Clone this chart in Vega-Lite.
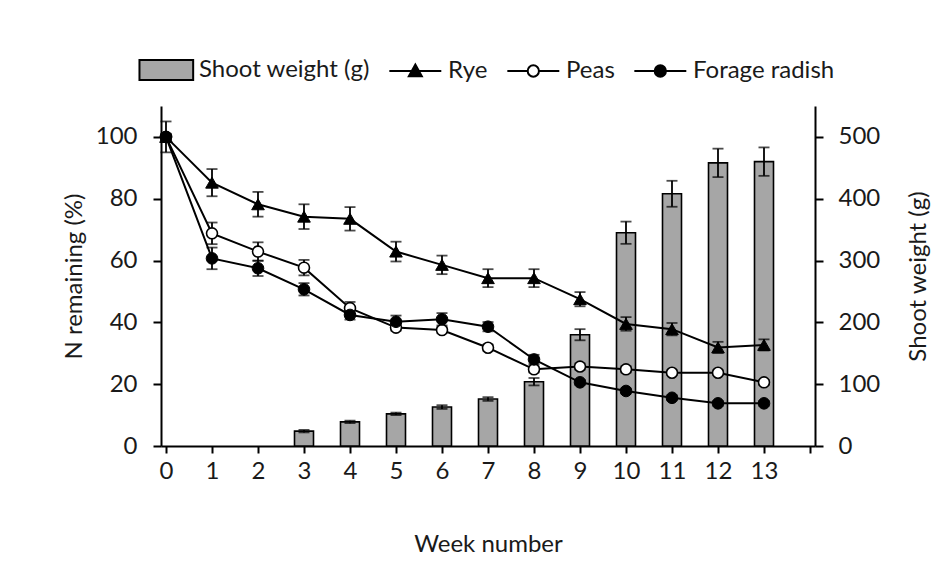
{
  "$schema": "https://vega.github.io/schema/vega-lite/v6.json",
  "width": 654,
  "height": 340,
  "autosize": {"type": "none"},
  "padding": {"left": 161, "top": 106, "right": 136, "bottom": 136},
  "background": "white",
  "datasets": {
    "shoot": [
      {"week": 3, "weight": 24, "err": 2},
      {"week": 4, "weight": 39, "err": 2},
      {"week": 5, "weight": 52, "err": 2},
      {"week": 6, "weight": 63, "err": 3},
      {"week": 7, "weight": 76, "err": 3},
      {"week": 8, "weight": 104, "err": 6},
      {"week": 9, "weight": 180, "err": 9},
      {"week": 10, "weight": 345, "err": 18},
      {"week": 11, "weight": 408, "err": 21},
      {"week": 12, "weight": 458, "err": 23},
      {"week": 13, "weight": 460, "err": 23}
    ],
    "lines": [
      {"week": 0, "series": "Rye", "n": 100, "err": 5},
      {"week": 1, "series": "Rye", "n": 85.2, "err": 4.4},
      {"week": 2, "series": "Rye", "n": 78.2, "err": 4},
      {"week": 3, "series": "Rye", "n": 74.2, "err": 4},
      {"week": 4, "series": "Rye", "n": 73.5, "err": 3.8},
      {"week": 5, "series": "Rye", "n": 62.9, "err": 3.2},
      {"week": 6, "series": "Rye", "n": 58.6, "err": 3},
      {"week": 7, "series": "Rye", "n": 54.3, "err": 2.9},
      {"week": 8, "series": "Rye", "n": 54.3, "err": 2.9},
      {"week": 9, "series": "Rye", "n": 47.5, "err": 2.3},
      {"week": 10, "series": "Rye", "n": 39.5, "err": 2.2},
      {"week": 11, "series": "Rye", "n": 37.8, "err": 2},
      {"week": 12, "series": "Rye", "n": 31.9, "err": 1.8},
      {"week": 13, "series": "Rye", "n": 32.7, "err": 1.8},
      {"week": 0, "series": "Peas", "n": 100, "err": 1},
      {"week": 1, "series": "Peas", "n": 68.8, "err": 3.5},
      {"week": 2, "series": "Peas", "n": 62.9, "err": 3},
      {"week": 3, "series": "Peas", "n": 57.7, "err": 2.5},
      {"week": 4, "series": "Peas", "n": 44.6, "err": 2},
      {"week": 5, "series": "Peas", "n": 38.3, "err": 1},
      {"week": 6, "series": "Peas", "n": 37.5, "err": 1},
      {"week": 7, "series": "Peas", "n": 31.8, "err": 1},
      {"week": 8, "series": "Peas", "n": 24.8, "err": 1},
      {"week": 9, "series": "Peas", "n": 25.7, "err": 1},
      {"week": 10, "series": "Peas", "n": 24.8, "err": 1},
      {"week": 11, "series": "Peas", "n": 23.7, "err": 0.8},
      {"week": 12, "series": "Peas", "n": 23.7, "err": 0.8},
      {"week": 13, "series": "Peas", "n": 20.6, "err": 0.8},
      {"week": 0, "series": "Forage radish", "n": 100, "err": 1},
      {"week": 1, "series": "Forage radish", "n": 60.7, "err": 3.5},
      {"week": 2, "series": "Forage radish", "n": 57.5, "err": 2.5},
      {"week": 3, "series": "Forage radish", "n": 50.7, "err": 2},
      {"week": 4, "series": "Forage radish", "n": 42.4, "err": 1.5},
      {"week": 5, "series": "Forage radish", "n": 40.2, "err": 2},
      {"week": 6, "series": "Forage radish", "n": 41, "err": 2},
      {"week": 7, "series": "Forage radish", "n": 38.6, "err": 1.5},
      {"week": 8, "series": "Forage radish", "n": 28, "err": 1.5},
      {"week": 9, "series": "Forage radish", "n": 20.6, "err": 0.8},
      {"week": 10, "series": "Forage radish", "n": 17.8, "err": 0.8},
      {"week": 11, "series": "Forage radish", "n": 15.6, "err": 0.8},
      {"week": 12, "series": "Forage radish", "n": 13.8, "err": 0.8},
      {"week": 13, "series": "Forage radish", "n": 13.8, "err": 0.8}
    ]
  },
  "layer": [
    {
      "data": {"name": "shoot"},
      "encoding": {
        "x": {
          "field": "week", "type": "quantitative",
          "scale": {"domain": [0, 14], "nice": false, "zero": false},
          "axis": {
            "title": "Week number",
            "values": [0, 1, 2, 3, 4, 5, 6, 7, 8, 9, 10, 11, 12, 13, 14],
            "labelExpr": "datum.value == 14 ? '' : datum.label",
            "tickSize": 7, "labelPadding": 6, "titlePadding": 49
          }
        },
        "y": {
          "field": "weight", "type": "quantitative",
          "scale": {"domain": [0, 550], "nice": false},
          "axis": {
            "orient": "right", "title": "Shoot weight (g)",
            "values": [0, 100, 200, 300, 400, 500],
            "tickSize": 8, "labelPadding": 15, "titlePadding": 27,
            "titleAngle": 270, "titleBaseline": "top"
          }
        }
      },
      "layer": [
        {"mark": {"type": "bar", "width": 19, "fill": "#a6a6a6", "stroke": "black", "strokeWidth": 1.6}},
        {
          "mark": {"type": "errorbar", "ticks": {"size": 11, "thickness": 1.8, "color": "black"}, "rule": {"strokeWidth": 1.8, "color": "black"}},
          "encoding": {"yError": {"field": "err"}}
        }
      ]
    },
    {
      "data": {"name": "lines"},
      "encoding": {
        "x": {
          "field": "week", "type": "quantitative",
          "scale": {"domain": [0, 14], "nice": false, "zero": false},
          "axis": {
            "title": "Week number",
            "values": [0, 1, 2, 3, 4, 5, 6, 7, 8, 9, 10, 11, 12, 13, 14],
            "labelExpr": "datum.value == 14 ? '' : datum.label",
            "tickSize": 7, "labelPadding": 6, "titlePadding": 49
          }
        },
        "y": {
          "field": "n", "type": "quantitative",
          "scale": {"domain": [0, 110], "nice": false},
          "axis": {
            "orient": "left", "title": "N remaining (%)",
            "values": [0, 20, 40, 60, 80, 100],
            "tickSize": 8, "labelPadding": 16, "titlePadding": 9
          }
        }
      },
      "layer": [
        {"mark": {"type": "line", "color": "black", "strokeWidth": 2}, "encoding": {"detail": {"field": "series"}}},
        {
          "mark": {"type": "errorbar", "ticks": {"size": 11, "thickness": 1.8, "color": "black"}, "rule": {"strokeWidth": 1.8, "color": "black"}},
          "encoding": {"yError": {"field": "err"}, "detail": {"field": "series"}}
        },
        {
          "transform": [{"filter": "datum.series == 'Rye'"}],
          "mark": {"type": "point", "shape": "triangle-up", "filled": true, "fill": "black", "stroke": "black", "strokeWidth": 1, "size": 160, "opacity": 1}
        },
        {
          "transform": [{"filter": "datum.series == 'Peas'"}],
          "mark": {"type": "point", "shape": "circle", "filled": true, "fill": "white", "stroke": "black", "strokeWidth": 1.6, "size": 120, "opacity": 1}
        },
        {
          "transform": [{"filter": "datum.series == 'Forage radish'"}],
          "mark": {"type": "point", "shape": "circle", "filled": true, "fill": "black", "stroke": "black", "strokeWidth": 1, "size": 135, "opacity": 1}
        },
        {
          "mark": {"type": "point", "opacity": 0, "filled": true, "stroke": "black", "strokeWidth": 2},
          "encoding": {
            "shape": {
              "field": "series", "type": "nominal",
              "scale": {
                "domain": ["Shoot weight (g)", "Rye", "Peas", "Forage radish"],
                "range": [
                  "M-1.1,-1.15H5.1V1.15H-1.1Z",
                  "M-1,0H5M2,-0.75L2.75,0.6L1.25,0.6Z",
                  "M-1,0H1.35M2.65,0H5M2.65,0A0.65,0.65 0 1,1 1.35,0A0.65,0.65 0 1,1 2.65,0Z",
                  "M-1,0H5M2.65,0A0.65,0.65 0 1,1 1.35,0A0.65,0.65 0 1,1 2.65,0Z"
                ]
              },
              "legend": {
                "title": null,
                "orient": "none",
                "legendX": -24,
                "legendY": -48,
                "direction": "horizontal",
                "columns": 4,
                "columnPadding": 15,
                "symbolSize": 300,
                "symbolStrokeWidth": 2,
                "symbolOpacity": 1,
                "labelOffset": 38,
                "labelFontSize": 24,
                "labelFont": "Lato",
                "labelColor": "#1a1a1a",
                "labelLimit": 400
              }
            },
            "fill": {
              "field": "series", "type": "nominal",
              "scale": {
                "domain": ["Shoot weight (g)", "Rye", "Peas", "Forage radish"],
                "range": ["#a6a6a6", "black", "white", "black"]
              },
              "legend": {
                "title": null,
                "orient": "none",
                "legendX": -24,
                "legendY": -48,
                "direction": "horizontal",
                "columns": 4,
                "columnPadding": 15,
                "symbolSize": 300,
                "symbolStrokeWidth": 2,
                "symbolOpacity": 1,
                "labelOffset": 38,
                "labelFontSize": 24,
                "labelFont": "Lato",
                "labelColor": "#1a1a1a",
                "labelLimit": 400
              }
            }
          }
        }
      ]
    }
  ],
  "resolve": {"scale": {"y": "independent"}},
  "config": {
    "view": {"stroke": null},
    "font": "Lato",
    "axis": {
      "grid": false,
      "domainColor": "black", "domainWidth": 2,
      "tickColor": "black", "tickWidth": 2,
      "labelFont": "Lato", "labelFontSize": 24, "labelColor": "#1a1a1a",
      "titleFont": "Lato", "titleFontSize": 24, "titleFontWeight": "normal", "titleColor": "#1a1a1a"
    }
  }
}
